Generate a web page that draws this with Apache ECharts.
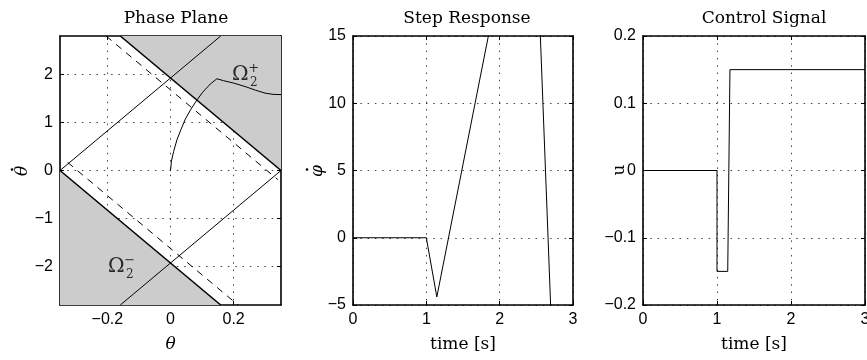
<!DOCTYPE html>
<html>
<head>
<meta charset="utf-8">
<script src="https://cdn.jsdelivr.net/npm/echarts@6/dist/echarts.min.js"></script>
<style>
  html, body { margin: 0; padding: 0; background: #fff; }
  #chart { width: 867px; height: 360px; }
</style>
</head>
<body>
<div id="chart"></div>
<script>
// ---- Phase plane (theta vs theta-dot) ----
const thetaRange = [-0.35, 0.35];
const thetaDotRange = [-2.8, 2.8];
const thetaTicks = [-0.2, 0, 0.2];
const thetaDotTicks = [-2, -1, 0, 1, 2];

// switching boundaries; the shaded sets lie beyond them
const boundaryPlus = [[-0.159, 2.8], [0.35, 0]];
const boundaryMinus = [[-0.35, 0], [0.159, -2.8]];
// rising diagonals
const diagLeft = [[-0.35, 0], [0.159, 2.8]];
const diagRight = [[-0.159, -2.8], [0.35, 0]];
// dashed inner boundaries
const dashedPlus = [[-0.204, 2.8], [0.34, -0.19]];
const dashedMinus = [[-0.326, 0.17], [0.214, -2.8]];

// closed-loop trajectory
const trajTheta    = [0, 0.003, 0.01, 0.021, 0.033, 0.047, 0.065, 0.084, 0.102, 0.126, 0.147, 0.168, 0.2, 0.24, 0.27, 0.3, 0.325, 0.35];
const trajThetaDot = [0, 0.2, 0.4, 0.65, 0.85, 1.07, 1.28, 1.47, 1.63, 1.80, 1.91, 1.87, 1.82, 1.74, 1.67, 1.61, 1.585, 1.58];

// region names Ω2+ / Ω2−
const regionLabelPos = [[0.221, 2.0], [-0.172, -2.0]];
const regionSigns = ['+', '\u2212'];

// ---- Step response ----
const stepTime   = [0, 1, 1.143, 2.44, 2.75];
const stepPhiDot = [0, 0, -4.4, 31.4, -12.9];
const stepTimeTicks = [0, 1, 2, 3];
const stepValTicks  = [-5, 0, 5, 10, 15];

// ---- Control signal ----
const ctrlTime = [0, 1, 1, 1.145, 1.175, 3];
const ctrlU    = [0, 0, -0.15, -0.15, 0.15, 0.15];
const ctrlTimeTicks = [0, 1, 2, 3];
const ctrlValTicks  = [-0.2, -0.1, 0, 0.1, 0.2];

const zip = (a, b) => a.map((v, i) => [v, b[i]]);
const fmt = v => String(parseFloat(Number(v).toFixed(3))).replace('-', '\u2212');

const SERIF = '"DejaVu Serif", serif';
const SANS = '"Liberation Sans", Arial, sans-serif';
const tickLabel = { fontFamily: SANS, fontSize: 16, color: '#000', margin: 7, formatter: fmt };
const dotted = { show: true, lineStyle: { color: '#444', width: 1, type: [1.5, 5.8] } };
const frameLine = { show: true, onZero: false, lineStyle: { color: '#000', width: 1.6 } };
const inTick = ticks => ({ show: true, inside: true, length: 4, customValues: ticks, lineStyle: { color: '#000', width: 1 } });

const grids = [
  { left: 60,  top: 36, width: 221, height: 269 },
  { left: 353, top: 36, width: 220, height: 269 },
  { left: 643, top: 36, width: 222, height: 269 }
].map(g => Object.assign({ outerBoundsMode: 'none', containLabel: false }, g));

const xAxis = [], yAxis = [];
function addAxes(gi, xr, xt, yr, yt, xName, xNameStyle) {
  xAxis.push({
    type: 'value', gridIndex: gi, position: 'bottom', min: xr[0], max: xr[1],
    axisLine: frameLine, axisTick: inTick(xt),
    axisLabel: Object.assign({ customValues: xt }, tickLabel),
    splitLine: dotted,
    name: xName, nameLocation: 'middle', nameGap: 31, nameMoveOverlap: false,
    nameTextStyle: xNameStyle
  });
  xAxis.push({
    type: 'value', gridIndex: gi, position: 'top', min: xr[0], max: xr[1],
    axisLine: frameLine, axisTick: inTick(xt), axisLabel: { show: false }, splitLine: { show: false }
  });
  yAxis.push({
    type: 'value', gridIndex: gi, position: 'left', min: yr[0], max: yr[1],
    axisLine: frameLine, axisTick: inTick(yt),
    axisLabel: Object.assign({ customValues: yt }, tickLabel),
    splitLine: dotted
  });
  yAxis.push({
    type: 'value', gridIndex: gi, position: 'right', min: yr[0], max: yr[1],
    axisLine: frameLine, axisTick: inTick(yt), axisLabel: { show: false }, splitLine: { show: false }
  });
}

const mathName = { fontFamily: SERIF, fontSize: 17, fontStyle: 'italic', color: '#000' };
const textName = { fontFamily: SERIF, fontSize: 17, color: '#000' };

addAxes(0, thetaRange, thetaTicks, thetaDotRange, thetaDotTicks, '\u03B8', mathName);
addAxes(1, [0, 3], stepTimeTicks, [-5, 15], stepValTicks, 'time [s]', textName);
addAxes(2, [0, 3], ctrlTimeTicks, [-0.2, 0.2], ctrlValTicks, 'time [s]', textName);

const solid = (w, extra) => Object.assign({
  type: 'line', showSymbol: false, symbol: 'none', clip: true, silent: true,
  lineStyle: { color: '#000', width: w }
}, extra);

// invisible anchor points carrying the Ω labels
const labelSeries = (text, size, offset) => ({
  type: 'scatter', xAxisIndex: 0, yAxisIndex: 0, silent: true,
  symbolSize: 1, itemStyle: { color: 'rgba(0,0,0,0)' },
  data: regionLabelPos.map((p, i) => ({
    value: p,
    label: { formatter: typeof text === 'function' ? text(i) : text }
  })),
  label: {
    show: true, position: 'inside', offset: offset,
    fontFamily: SERIF, fontSize: size, color: '#000'
  },
  z: 5
});

const series = [
  // shaded sets bounded by the switching lines
  solid(1.6, { xAxisIndex: 0, yAxisIndex: 0, data: boundaryPlus,
    areaStyle: { color: '#cccccc', opacity: 1, origin: 'end' } }),
  solid(1.6, { xAxisIndex: 0, yAxisIndex: 0, data: boundaryMinus,
    areaStyle: { color: '#cccccc', opacity: 1, origin: 'start' } }),
  solid(1, { xAxisIndex: 0, yAxisIndex: 0, data: diagLeft }),
  solid(1, { xAxisIndex: 0, yAxisIndex: 0, data: diagRight }),
  solid(1, { xAxisIndex: 0, yAxisIndex: 0, data: dashedPlus,
    lineStyle: { color: '#000', width: 1, type: [7, 6] } }),
  solid(1, { xAxisIndex: 0, yAxisIndex: 0, data: dashedMinus,
    lineStyle: { color: '#000', width: 1, type: [7, 6] } }),
  solid(1, { xAxisIndex: 0, yAxisIndex: 0, data: zip(trajTheta, trajThetaDot) }),
  labelSeries('\u03A9', 20, [0, 0]),
  labelSeries('2', 12, [13.5, 8]),
  labelSeries(i => regionSigns[i], 13, [13.5, -6]),
  solid(1, { xAxisIndex: 2, yAxisIndex: 2, data: zip(stepTime, stepPhiDot) }),
  solid(1, { xAxisIndex: 4, yAxisIndex: 4, data: zip(ctrlTime, ctrlU) })
];

const titleStyle = { fontFamily: SERIF, fontSize: 17, fontWeight: 'normal', color: '#000' };
const title = [
  { text: 'Phase Plane', left: 176, top: 10, textAlign: 'center', textStyle: titleStyle, padding: 0 },
  { text: 'Step Response', left: 467, top: 10, textAlign: 'center', textStyle: titleStyle, padding: 0 },
  { text: 'Control Signal', left: 764, top: 10, textAlign: 'center', textStyle: titleStyle, padding: 0 }
];

// rotated y-axis names; the time-derivative dot sits above the symbol
const yName = (x, y, text, style, dotY) => ({
  type: 'group', x: x, y: y, rotation: Math.PI / 2,
  children: [
    { type: 'text', style: Object.assign({ text: text, align: 'center', verticalAlign: 'middle', fill: '#000' }, style) }
  ].concat(dotY ? [{ type: 'circle', shape: { cx: 1.5, cy: dotY, r: 1.3 }, style: { fill: '#000' } }] : [])
});
const graphic = [
  yName(23, 171, '\u03B8', { font: 'italic 17px ' + SERIF }, -11),
  yName(318, 171, '\u03C6', { font: 'italic 17px ' + SERIF }, -11),
  yName(620, 170, 'u', { font: '17px ' + SERIF }, 0)
];

const chart = echarts.init(document.getElementById('chart'), null, { renderer: 'canvas' });
chart.setOption({
  animation: false,
  backgroundColor: '#fff',
  title, grid: grids, xAxis, yAxis, series, graphic
});
</script>
</body>
</html>
